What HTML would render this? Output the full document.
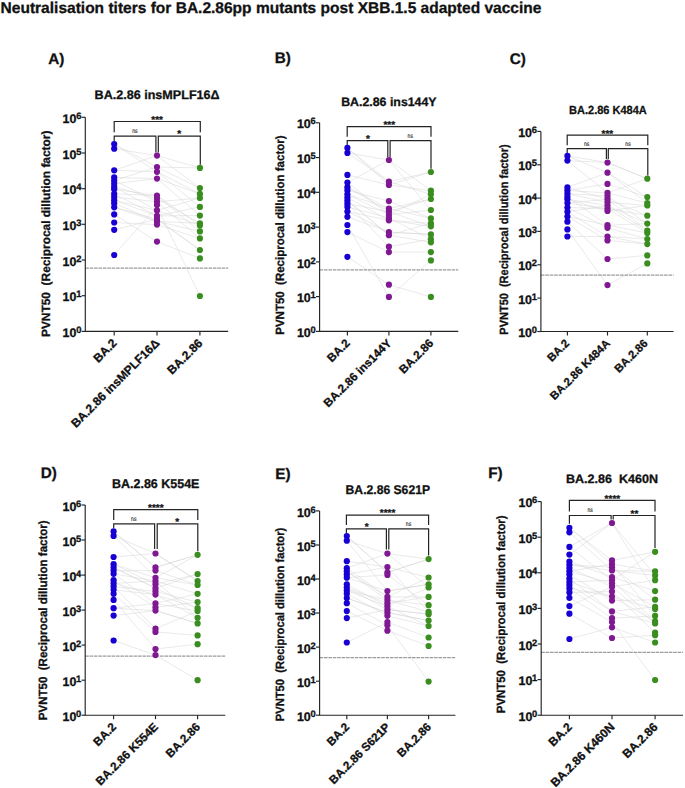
<!DOCTYPE html><html><head><meta charset="utf-8"><style>html,body{margin:0;padding:0;background:#fff;width:685px;height:788px;overflow:hidden}svg{display:block;text-rendering:geometricPrecision}</style></head><body>
<svg width="685" height="788" viewBox="0 0 685 788">
<rect width="685" height="788" fill="#fff"/>
<text x="0.6" y="12.9" font-family="Liberation Sans, sans-serif" font-weight="bold" stroke="#111" stroke-width="0.3" font-size="15.5" textLength="540.8" lengthAdjust="spacingAndGlyphs" fill="#111">Neutralisation titers for BA.2.86pp mutants post XBB.1.5 adapted vaccine</text>
<g stroke="#d4d4d4" stroke-width="0.5" fill="none">
<polyline points="114.2,144 157,167.1 199.9,167.9"/>
<polyline points="114.2,144 157,171.8 199.9,193.9"/>
<polyline points="114.2,148.7 157,155.6 199.9,188.1"/>
<polyline points="114.2,170.3 157,155.6 199.9,167.9"/>
<polyline points="114.2,170.3 157,171.8 199.9,206.9"/>
<polyline points="114.2,177.4 157,178.6 199.9,215.6"/>
<polyline points="114.2,180.5 157,201.8 199.9,198"/>
<polyline points="114.2,180.5 157,167.1 199.9,188.1"/>
<polyline points="114.2,183.7 157,178.6 199.9,193.9"/>
<polyline points="114.2,186.8 157,210.4 199.9,198"/>
<polyline points="114.2,186.8 157,198.6 199.9,223.3"/>
<polyline points="114.2,189.2 157,195.5 199.9,225.4"/>
<polyline points="114.2,193.9 157,215.9 199.9,215.6"/>
<polyline points="114.2,193.9 157,195.5 199.9,231.4"/>
<polyline points="114.2,197 157,201.8 199.9,238.4"/>
<polyline points="114.2,200.2 157,210.4 199.9,225.4"/>
<polyline points="114.2,200.2 157,215.9 199.9,206.9"/>
<polyline points="114.2,203.3 157,221.4 199.9,231.4"/>
<polyline points="114.2,207.3 157,221.4 199.9,223.3"/>
<polyline points="114.2,207.3 157,219.1 199.9,250"/>
<polyline points="114.2,222.5 157,224.6 199.9,238.4"/>
<polyline points="114.2,229.8 157,219.1 199.9,250"/>
<polyline points="114.2,254.8 157,206.5 199.9,296"/>
<polyline points="114.2,214.4 157,241.6 199.9,258.4"/>
</g>
<line x1="85.3" y1="268.2" x2="228.2" y2="268.2" stroke="#9c9c9c" stroke-width="1.2" stroke-dasharray="3.6,0.8"/>
<g stroke="#242424" stroke-width="1.15" fill="none">
<path d="M85.3,117.3 V331.4 H228.2"/>
<path d="M81.7,331.4 H85.3"/>
<path d="M81.7,295.7 H85.3"/>
<path d="M81.7,260 H85.3"/>
<path d="M81.7,224.3 H85.3"/>
<path d="M81.7,188.7 H85.3"/>
<path d="M81.7,153 H85.3"/>
<path d="M81.7,117.3 H85.3"/>
<path d="M114.2,331.4 V335.4"/>
<path d="M157,331.4 V335.4"/>
<path d="M199.9,331.4 V335.4"/>
</g>
<text x="76.4" y="337" font-family="Liberation Sans, sans-serif" font-weight="bold" stroke="#111" stroke-width="0.3" font-size="12.4" text-anchor="end" fill="#111">10</text>
<text x="76.2" y="333" font-family="Liberation Sans, sans-serif" font-weight="bold" stroke="#111" stroke-width="0.3" font-size="9.4" fill="#111">0</text>
<text x="76.4" y="301.3" font-family="Liberation Sans, sans-serif" font-weight="bold" stroke="#111" stroke-width="0.3" font-size="12.4" text-anchor="end" fill="#111">10</text>
<text x="76.2" y="297.3" font-family="Liberation Sans, sans-serif" font-weight="bold" stroke="#111" stroke-width="0.3" font-size="9.4" fill="#111">1</text>
<text x="76.4" y="265.6" font-family="Liberation Sans, sans-serif" font-weight="bold" stroke="#111" stroke-width="0.3" font-size="12.4" text-anchor="end" fill="#111">10</text>
<text x="76.2" y="261.6" font-family="Liberation Sans, sans-serif" font-weight="bold" stroke="#111" stroke-width="0.3" font-size="9.4" fill="#111">2</text>
<text x="76.4" y="229.9" font-family="Liberation Sans, sans-serif" font-weight="bold" stroke="#111" stroke-width="0.3" font-size="12.4" text-anchor="end" fill="#111">10</text>
<text x="76.2" y="225.9" font-family="Liberation Sans, sans-serif" font-weight="bold" stroke="#111" stroke-width="0.3" font-size="9.4" fill="#111">3</text>
<text x="76.4" y="194.3" font-family="Liberation Sans, sans-serif" font-weight="bold" stroke="#111" stroke-width="0.3" font-size="12.4" text-anchor="end" fill="#111">10</text>
<text x="76.2" y="190.3" font-family="Liberation Sans, sans-serif" font-weight="bold" stroke="#111" stroke-width="0.3" font-size="9.4" fill="#111">4</text>
<text x="76.4" y="158.6" font-family="Liberation Sans, sans-serif" font-weight="bold" stroke="#111" stroke-width="0.3" font-size="12.4" text-anchor="end" fill="#111">10</text>
<text x="76.2" y="154.6" font-family="Liberation Sans, sans-serif" font-weight="bold" stroke="#111" stroke-width="0.3" font-size="9.4" fill="#111">5</text>
<text x="76.4" y="122.9" font-family="Liberation Sans, sans-serif" font-weight="bold" stroke="#111" stroke-width="0.3" font-size="12.4" text-anchor="end" fill="#111">10</text>
<text x="76.2" y="118.9" font-family="Liberation Sans, sans-serif" font-weight="bold" stroke="#111" stroke-width="0.3" font-size="9.4" fill="#111">6</text>
<text x="0" y="0" transform="translate(50.4,233.8) rotate(-90)" font-family="Liberation Sans, sans-serif" font-weight="bold" stroke="#111" stroke-width="0.3" font-size="12" text-anchor="middle" textLength="206.5" lengthAdjust="spacingAndGlyphs" fill="#111" xml:space="preserve">PVNT50  (Reciprocal dillution factor)</text>
<text x="0" y="0" transform="translate(117.5,343.9) rotate(-45)" font-family="Liberation Sans, sans-serif" font-weight="bold" stroke="#111" stroke-width="0.3" font-size="12.0" text-anchor="end" fill="#111">BA.2</text>
<text x="0" y="0" transform="translate(160.3,343.9) rotate(-45)" font-family="Liberation Sans, sans-serif" font-weight="bold" stroke="#111" stroke-width="0.3" font-size="12.0" text-anchor="end" fill="#111">BA.2.86 insMPLF16Δ</text>
<text x="0" y="0" transform="translate(203.2,343.9) rotate(-45)" font-family="Liberation Sans, sans-serif" font-weight="bold" stroke="#111" stroke-width="0.3" font-size="12.0" text-anchor="end" fill="#111">BA.2.86</text>
<text x="48.2" y="63.9" font-family="Liberation Sans, sans-serif" font-weight="bold" stroke="#111" stroke-width="0.3" font-size="15.3" fill="#111">A)</text>
<text x="94.6" y="99.3" font-family="Liberation Sans, sans-serif" font-weight="bold" stroke="#111" stroke-width="0.3" font-size="12.4" textLength="125" lengthAdjust="spacingAndGlyphs" fill="#111" xml:space="preserve">BA.2.86 insMPLF16Δ</text>
<g stroke="#242424" stroke-width="1.2" fill="none">
<path d="M114.2,132.2 V121.5 H200.3 V132.2"/>
<path d="M114.2,141 V136.1 H155.9 V152.5"/>
<path d="M158.3,152.5 V136.1 H200.3 V164.7"/>
</g>
<text x="157.1" y="122.9" font-family="Liberation Sans, sans-serif" font-weight="bold" stroke="#111" stroke-width="0.3" font-size="10" text-anchor="middle" fill="#111">***</text>
<text x="134.9" y="133.1" font-family="Liberation Sans, sans-serif" font-size="6.6" textLength="5.4" lengthAdjust="spacingAndGlyphs" text-anchor="middle" fill="#1a1a1a" stroke="#1a1a1a" stroke-width="0.12">ns</text>
<text x="179.3" y="137.3" font-family="Liberation Sans, sans-serif" font-weight="bold" stroke="#111" stroke-width="0.3" font-size="10" text-anchor="middle" fill="#111">*</text>
<g fill="#1800d4">
<circle cx="114.2" cy="144" r="3.1"/>
<circle cx="114.2" cy="148.7" r="3.1"/>
<circle cx="114.2" cy="170.3" r="3.1"/>
<circle cx="114.2" cy="177.4" r="3.1"/>
<circle cx="114.2" cy="180.5" r="3.1"/>
<circle cx="114.2" cy="183.7" r="3.1"/>
<circle cx="114.2" cy="186.8" r="3.1"/>
<circle cx="114.2" cy="189.2" r="3.1"/>
<circle cx="114.2" cy="193.9" r="3.1"/>
<circle cx="114.2" cy="197" r="3.1"/>
<circle cx="114.2" cy="200.2" r="3.1"/>
<circle cx="114.2" cy="203.3" r="3.1"/>
<circle cx="114.2" cy="207.3" r="3.1"/>
<circle cx="114.2" cy="214.4" r="3.1"/>
<circle cx="114.2" cy="222.5" r="3.1"/>
<circle cx="114.2" cy="229.8" r="3.1"/>
<circle cx="114.2" cy="255" r="3.1"/>
</g>
<g fill="#7f1892">
<circle cx="157" cy="155.6" r="3.1"/>
<circle cx="157" cy="167.1" r="3.1"/>
<circle cx="157" cy="171.8" r="3.1"/>
<circle cx="157" cy="178.6" r="3.1"/>
<circle cx="157" cy="195.5" r="3.1"/>
<circle cx="157" cy="198.6" r="3.1"/>
<circle cx="157" cy="201.8" r="3.1"/>
<circle cx="157" cy="205" r="3.1"/>
<circle cx="157" cy="210.4" r="3.1"/>
<circle cx="157" cy="215.9" r="3.1"/>
<circle cx="157" cy="219.1" r="3.1"/>
<circle cx="157" cy="221.4" r="3.1"/>
<circle cx="157" cy="224.6" r="3.1"/>
<circle cx="157" cy="241.6" r="3.1"/>
</g>
<g fill="#3a8e1f">
<circle cx="199.9" cy="167.9" r="3.1"/>
<circle cx="199.9" cy="188.1" r="3.1"/>
<circle cx="199.9" cy="193.9" r="3.1"/>
<circle cx="199.9" cy="198" r="3.1"/>
<circle cx="199.9" cy="206.9" r="3.1"/>
<circle cx="199.9" cy="215.6" r="3.1"/>
<circle cx="199.9" cy="223.3" r="3.1"/>
<circle cx="199.9" cy="225.4" r="3.1"/>
<circle cx="199.9" cy="231.4" r="3.1"/>
<circle cx="199.9" cy="238.4" r="3.1"/>
<circle cx="199.9" cy="250" r="3.1"/>
<circle cx="199.9" cy="258.4" r="3.1"/>
<circle cx="199.9" cy="296" r="3.1"/>
</g>
<g stroke="#d4d4d4" stroke-width="0.5" fill="none">
<polyline points="347.4,147.9 388.9,181.7 430.9,172"/>
<polyline points="347.4,147.9 388.9,184.9 430.9,190.7"/>
<polyline points="347.4,152.9 388.9,160 430.9,190.7"/>
<polyline points="347.4,152.9 388.9,181.7 430.9,194.3"/>
<polyline points="347.4,174.9 388.9,184.9 430.9,172"/>
<polyline points="347.4,182.5 388.9,160 430.9,210"/>
<polyline points="347.4,182.5 388.9,214.8 430.9,194.3"/>
<polyline points="347.4,187.2 388.9,211.6 430.9,199"/>
<polyline points="347.4,187.2 388.9,208.5 430.9,199"/>
<polyline points="347.4,190.4 388.9,201.1 430.9,218.4"/>
<polyline points="347.4,194.3 388.9,214.8 430.9,210"/>
<polyline points="347.4,194.3 388.9,208.5 430.9,218.4"/>
<polyline points="347.4,197.5 388.9,220.3 430.9,223.4"/>
<polyline points="347.4,200.6 388.9,235.2 430.9,223.4"/>
<polyline points="347.4,200.6 388.9,235.2 430.9,242.3"/>
<polyline points="347.4,203.7 388.9,211.6 430.9,226.3"/>
<polyline points="347.4,203.7 388.9,246.7 430.9,239.2"/>
<polyline points="347.4,206.9 388.9,217.9 430.9,239.2"/>
<polyline points="347.4,211.6 388.9,220.3 430.9,226.3"/>
<polyline points="347.4,211.6 388.9,232.1 430.9,234.4"/>
<polyline points="347.4,216.8 388.9,232.1 430.9,234.4"/>
<polyline points="347.4,256.8 388.9,284.7 430.9,296.9"/>
<polyline points="347.4,225 388.9,296.9 430.9,260.4"/>
<polyline points="347.4,232.1 388.9,252.1 430.9,252.1"/>
</g>
<line x1="319.6" y1="269.8" x2="458.3" y2="269.8" stroke="#9c9c9c" stroke-width="1.2" stroke-dasharray="3.6,0.8"/>
<g stroke="#242424" stroke-width="1.15" fill="none">
<path d="M319.6,122.8 V331.4 H458.3"/>
<path d="M316,331.4 H319.6"/>
<path d="M316,296.6 H319.6"/>
<path d="M316,261.9 H319.6"/>
<path d="M316,227.1 H319.6"/>
<path d="M316,192.3 H319.6"/>
<path d="M316,157.6 H319.6"/>
<path d="M316,122.8 H319.6"/>
<path d="M347.4,331.4 V335.4"/>
<path d="M388.9,331.4 V335.4"/>
<path d="M430.9,331.4 V335.4"/>
</g>
<text x="310.7" y="337" font-family="Liberation Sans, sans-serif" font-weight="bold" stroke="#111" stroke-width="0.3" font-size="12.4" text-anchor="end" fill="#111">10</text>
<text x="310.5" y="333" font-family="Liberation Sans, sans-serif" font-weight="bold" stroke="#111" stroke-width="0.3" font-size="9.4" fill="#111">0</text>
<text x="310.7" y="302.2" font-family="Liberation Sans, sans-serif" font-weight="bold" stroke="#111" stroke-width="0.3" font-size="12.4" text-anchor="end" fill="#111">10</text>
<text x="310.5" y="298.2" font-family="Liberation Sans, sans-serif" font-weight="bold" stroke="#111" stroke-width="0.3" font-size="9.4" fill="#111">1</text>
<text x="310.7" y="267.5" font-family="Liberation Sans, sans-serif" font-weight="bold" stroke="#111" stroke-width="0.3" font-size="12.4" text-anchor="end" fill="#111">10</text>
<text x="310.5" y="263.5" font-family="Liberation Sans, sans-serif" font-weight="bold" stroke="#111" stroke-width="0.3" font-size="9.4" fill="#111">2</text>
<text x="310.7" y="232.7" font-family="Liberation Sans, sans-serif" font-weight="bold" stroke="#111" stroke-width="0.3" font-size="12.4" text-anchor="end" fill="#111">10</text>
<text x="310.5" y="228.7" font-family="Liberation Sans, sans-serif" font-weight="bold" stroke="#111" stroke-width="0.3" font-size="9.4" fill="#111">3</text>
<text x="310.7" y="197.9" font-family="Liberation Sans, sans-serif" font-weight="bold" stroke="#111" stroke-width="0.3" font-size="12.4" text-anchor="end" fill="#111">10</text>
<text x="310.5" y="193.9" font-family="Liberation Sans, sans-serif" font-weight="bold" stroke="#111" stroke-width="0.3" font-size="9.4" fill="#111">4</text>
<text x="310.7" y="163.2" font-family="Liberation Sans, sans-serif" font-weight="bold" stroke="#111" stroke-width="0.3" font-size="12.4" text-anchor="end" fill="#111">10</text>
<text x="310.5" y="159.2" font-family="Liberation Sans, sans-serif" font-weight="bold" stroke="#111" stroke-width="0.3" font-size="9.4" fill="#111">5</text>
<text x="310.7" y="128.4" font-family="Liberation Sans, sans-serif" font-weight="bold" stroke="#111" stroke-width="0.3" font-size="12.4" text-anchor="end" fill="#111">10</text>
<text x="310.5" y="124.4" font-family="Liberation Sans, sans-serif" font-weight="bold" stroke="#111" stroke-width="0.3" font-size="9.4" fill="#111">6</text>
<text x="0" y="0" transform="translate(283.6,235.1) rotate(-90)" font-family="Liberation Sans, sans-serif" font-weight="bold" stroke="#111" stroke-width="0.3" font-size="12" text-anchor="middle" textLength="199.3" lengthAdjust="spacingAndGlyphs" fill="#111" xml:space="preserve">PVNT50  (Reciprocal dillution factor)</text>
<text x="0" y="0" transform="translate(350.7,343.9) rotate(-45)" font-family="Liberation Sans, sans-serif" font-weight="bold" stroke="#111" stroke-width="0.3" font-size="11.7" text-anchor="end" fill="#111">BA.2</text>
<text x="0" y="0" transform="translate(392.2,343.9) rotate(-45)" font-family="Liberation Sans, sans-serif" font-weight="bold" stroke="#111" stroke-width="0.3" font-size="11.7" text-anchor="end" fill="#111">BA.2.86 ins144Y</text>
<text x="0" y="0" transform="translate(434.2,343.9) rotate(-45)" font-family="Liberation Sans, sans-serif" font-weight="bold" stroke="#111" stroke-width="0.3" font-size="11.7" text-anchor="end" fill="#111">BA.2.86</text>
<text x="274.8" y="63.1" font-family="Liberation Sans, sans-serif" font-weight="bold" stroke="#111" stroke-width="0.3" font-size="15.3" fill="#111">B)</text>
<text x="341.2" y="105.8" font-family="Liberation Sans, sans-serif" font-weight="bold" stroke="#111" stroke-width="0.3" font-size="12.2" textLength="95.4" lengthAdjust="spacingAndGlyphs" fill="#111" xml:space="preserve">BA.2.86 ins144Y</text>
<g stroke="#242424" stroke-width="1.2" fill="none">
<path d="M347.2,136.8 V126.6 H431 V136.8"/>
<path d="M347.2,145.4 V140.7 H387.8 V157.2"/>
<path d="M390.1,157.2 V140.7 H431 V168.7"/>
</g>
<text x="389.3" y="128.1" font-family="Liberation Sans, sans-serif" font-weight="bold" stroke="#111" stroke-width="0.3" font-size="10" text-anchor="middle" fill="#111">***</text>
<text x="367.9" y="142.2" font-family="Liberation Sans, sans-serif" font-weight="bold" stroke="#111" stroke-width="0.3" font-size="10" text-anchor="middle" fill="#111">*</text>
<text x="410.3" y="138.3" font-family="Liberation Sans, sans-serif" font-size="6.6" textLength="5.4" lengthAdjust="spacingAndGlyphs" text-anchor="middle" fill="#1a1a1a" stroke="#1a1a1a" stroke-width="0.12">ns</text>
<g fill="#1800d4">
<circle cx="347.4" cy="147.9" r="3.1"/>
<circle cx="347.4" cy="152.9" r="3.1"/>
<circle cx="347.4" cy="174.9" r="3.1"/>
<circle cx="347.4" cy="182.5" r="3.1"/>
<circle cx="347.4" cy="187.2" r="3.1"/>
<circle cx="347.4" cy="190.4" r="3.1"/>
<circle cx="347.4" cy="194.3" r="3.1"/>
<circle cx="347.4" cy="197.5" r="3.1"/>
<circle cx="347.4" cy="200.6" r="3.1"/>
<circle cx="347.4" cy="203.7" r="3.1"/>
<circle cx="347.4" cy="206.9" r="3.1"/>
<circle cx="347.4" cy="211.6" r="3.1"/>
<circle cx="347.4" cy="216.8" r="3.1"/>
<circle cx="347.4" cy="225" r="3.1"/>
<circle cx="347.4" cy="232.1" r="3.1"/>
<circle cx="347.4" cy="256.8" r="3.1"/>
</g>
<g fill="#7f1892">
<circle cx="388.9" cy="160" r="3.1"/>
<circle cx="388.9" cy="181.7" r="3.1"/>
<circle cx="388.9" cy="184.9" r="3.1"/>
<circle cx="388.9" cy="201.1" r="3.1"/>
<circle cx="388.9" cy="208.5" r="3.1"/>
<circle cx="388.9" cy="211.6" r="3.1"/>
<circle cx="388.9" cy="214.8" r="3.1"/>
<circle cx="388.9" cy="217.9" r="3.1"/>
<circle cx="388.9" cy="220.3" r="3.1"/>
<circle cx="388.9" cy="232.1" r="3.1"/>
<circle cx="388.9" cy="235.2" r="3.1"/>
<circle cx="388.9" cy="246.7" r="3.1"/>
<circle cx="388.9" cy="252.1" r="3.1"/>
<circle cx="388.9" cy="284.7" r="3.1"/>
<circle cx="388.9" cy="296.9" r="3.1"/>
</g>
<g fill="#3a8e1f">
<circle cx="430.9" cy="172" r="3.1"/>
<circle cx="430.9" cy="190.7" r="3.1"/>
<circle cx="430.9" cy="194.3" r="3.1"/>
<circle cx="430.9" cy="199" r="3.1"/>
<circle cx="430.9" cy="210" r="3.1"/>
<circle cx="430.9" cy="218.4" r="3.1"/>
<circle cx="430.9" cy="223.4" r="3.1"/>
<circle cx="430.9" cy="226.3" r="3.1"/>
<circle cx="430.9" cy="234.4" r="3.1"/>
<circle cx="430.9" cy="239.2" r="3.1"/>
<circle cx="430.9" cy="242.3" r="3.1"/>
<circle cx="430.9" cy="252.1" r="3.1"/>
<circle cx="430.9" cy="260.4" r="3.1"/>
<circle cx="430.9" cy="296.9" r="3.1"/>
</g>
<g stroke="#d4d4d4" stroke-width="0.5" fill="none">
<polyline points="567.4,155.9 607.5,162.6 647.3,178.7"/>
<polyline points="567.4,155.9 607.5,172.7 647.3,197.1"/>
<polyline points="567.4,160.6 607.5,192.9 647.3,178.7"/>
<polyline points="567.4,160.6 607.5,162.6 647.3,178.7"/>
<polyline points="567.4,187.4 607.5,172.7 647.3,203.1"/>
<polyline points="567.4,187.4 607.5,199.2 647.3,215.7"/>
<polyline points="567.4,190.5 607.5,183.9 647.3,197.1"/>
<polyline points="567.4,190.5 607.5,192.9 647.3,203.1"/>
<polyline points="567.4,193.7 607.5,202.3 647.3,205.5"/>
<polyline points="567.4,193.7 607.5,196 647.3,223.6"/>
<polyline points="567.4,196.8 607.5,225.2 647.3,223.6"/>
<polyline points="567.4,199.2 607.5,205.5 647.3,230.7"/>
<polyline points="567.4,199.2 607.5,211 647.3,205.5"/>
<polyline points="567.4,203.1 607.5,199.2 647.3,230.7"/>
<polyline points="567.4,203.1 607.5,208.6 647.3,215.7"/>
<polyline points="567.4,207.5 607.5,227.8 647.3,239"/>
<polyline points="567.4,207.5 607.5,208.6 647.3,233"/>
<polyline points="567.4,211.8 607.5,236.5 647.3,239"/>
<polyline points="567.4,211.8 607.5,205.5 647.3,223.6"/>
<polyline points="567.4,216.5 607.5,225.2 647.3,233"/>
<polyline points="567.4,216.5 607.5,240.4 647.3,244.1"/>
<polyline points="567.4,236.5 607.5,236.5 647.3,244.1"/>
<polyline points="567.4,229.4 607.5,285.1 647.3,263.4"/>
<polyline points="567.4,221.7 607.5,259 647.3,255.4"/>
</g>
<line x1="540.9" y1="275.2" x2="673.6" y2="275.2" stroke="#9c9c9c" stroke-width="1.2" stroke-dasharray="3.6,0.8"/>
<g stroke="#242424" stroke-width="1.15" fill="none">
<path d="M540.9,131.4 V331.5 H673.6"/>
<path d="M537.3,331.5 H540.9"/>
<path d="M537.3,298.1 H540.9"/>
<path d="M537.3,264.8 H540.9"/>
<path d="M537.3,231.4 H540.9"/>
<path d="M537.3,198.1 H540.9"/>
<path d="M537.3,164.8 H540.9"/>
<path d="M537.3,131.4 H540.9"/>
<path d="M567.4,331.5 V335.5"/>
<path d="M607.5,331.5 V335.5"/>
<path d="M647.3,331.5 V335.5"/>
</g>
<text x="532" y="337.1" font-family="Liberation Sans, sans-serif" font-weight="bold" stroke="#111" stroke-width="0.3" font-size="12.4" text-anchor="end" fill="#111">10</text>
<text x="531.8" y="333.1" font-family="Liberation Sans, sans-serif" font-weight="bold" stroke="#111" stroke-width="0.3" font-size="9.4" fill="#111">0</text>
<text x="532" y="303.8" font-family="Liberation Sans, sans-serif" font-weight="bold" stroke="#111" stroke-width="0.3" font-size="12.4" text-anchor="end" fill="#111">10</text>
<text x="531.8" y="299.8" font-family="Liberation Sans, sans-serif" font-weight="bold" stroke="#111" stroke-width="0.3" font-size="9.4" fill="#111">1</text>
<text x="532" y="270.4" font-family="Liberation Sans, sans-serif" font-weight="bold" stroke="#111" stroke-width="0.3" font-size="12.4" text-anchor="end" fill="#111">10</text>
<text x="531.8" y="266.4" font-family="Liberation Sans, sans-serif" font-weight="bold" stroke="#111" stroke-width="0.3" font-size="9.4" fill="#111">2</text>
<text x="532" y="237" font-family="Liberation Sans, sans-serif" font-weight="bold" stroke="#111" stroke-width="0.3" font-size="12.4" text-anchor="end" fill="#111">10</text>
<text x="531.8" y="233" font-family="Liberation Sans, sans-serif" font-weight="bold" stroke="#111" stroke-width="0.3" font-size="9.4" fill="#111">3</text>
<text x="532" y="203.7" font-family="Liberation Sans, sans-serif" font-weight="bold" stroke="#111" stroke-width="0.3" font-size="12.4" text-anchor="end" fill="#111">10</text>
<text x="531.8" y="199.7" font-family="Liberation Sans, sans-serif" font-weight="bold" stroke="#111" stroke-width="0.3" font-size="9.4" fill="#111">4</text>
<text x="532" y="170.3" font-family="Liberation Sans, sans-serif" font-weight="bold" stroke="#111" stroke-width="0.3" font-size="12.4" text-anchor="end" fill="#111">10</text>
<text x="531.8" y="166.3" font-family="Liberation Sans, sans-serif" font-weight="bold" stroke="#111" stroke-width="0.3" font-size="9.4" fill="#111">5</text>
<text x="532" y="137" font-family="Liberation Sans, sans-serif" font-weight="bold" stroke="#111" stroke-width="0.3" font-size="12.4" text-anchor="end" fill="#111">10</text>
<text x="531.8" y="133" font-family="Liberation Sans, sans-serif" font-weight="bold" stroke="#111" stroke-width="0.3" font-size="9.4" fill="#111">6</text>
<text x="0" y="0" transform="translate(508,239.5) rotate(-90)" font-family="Liberation Sans, sans-serif" font-weight="bold" stroke="#111" stroke-width="0.3" font-size="12" text-anchor="middle" textLength="190.3" lengthAdjust="spacingAndGlyphs" fill="#111" xml:space="preserve">PVNT50  (Reciprocal dillution factor)</text>
<text x="0" y="0" transform="translate(569.9,344) rotate(-45)" font-family="Liberation Sans, sans-serif" font-weight="bold" stroke="#111" stroke-width="0.3" font-size="11.3" text-anchor="end" fill="#111">BA.2</text>
<text x="0" y="0" transform="translate(610.8,344) rotate(-45)" font-family="Liberation Sans, sans-serif" font-weight="bold" stroke="#111" stroke-width="0.3" font-size="11.3" text-anchor="end" fill="#111">BA.2.86 K484A</text>
<text x="0" y="0" transform="translate(648.4,344) rotate(-45)" font-family="Liberation Sans, sans-serif" font-weight="bold" stroke="#111" stroke-width="0.3" font-size="11.3" text-anchor="end" fill="#111">BA.2.86</text>
<text x="509.7" y="64.4" font-family="Liberation Sans, sans-serif" font-weight="bold" stroke="#111" stroke-width="0.3" font-size="15.3" fill="#111">C)</text>
<text x="569.1" y="114.1" font-family="Liberation Sans, sans-serif" font-weight="bold" stroke="#111" stroke-width="0.3" font-size="11.8" textLength="77.6" lengthAdjust="spacingAndGlyphs" fill="#111" xml:space="preserve">BA.2.86 K484A</text>
<g stroke="#242424" stroke-width="1.2" fill="none">
<path d="M567.2,145.3 V135.2 H647.8 V145.3"/>
<path d="M567.2,153.5 V148.7 H606.4 V159"/>
<path d="M608.3,159 V148.7 H647.8 V175.4"/>
</g>
<text x="607.4" y="136.9" font-family="Liberation Sans, sans-serif" font-weight="bold" stroke="#111" stroke-width="0.3" font-size="10" text-anchor="middle" fill="#111">***</text>
<text x="586.6" y="146.2" font-family="Liberation Sans, sans-serif" font-size="6.6" textLength="5.4" lengthAdjust="spacingAndGlyphs" text-anchor="middle" fill="#1a1a1a" stroke="#1a1a1a" stroke-width="0.12">ns</text>
<text x="628" y="146.2" font-family="Liberation Sans, sans-serif" font-size="6.6" textLength="5.4" lengthAdjust="spacingAndGlyphs" text-anchor="middle" fill="#1a1a1a" stroke="#1a1a1a" stroke-width="0.12">ns</text>
<g fill="#1800d4">
<circle cx="567.4" cy="155.9" r="3.1"/>
<circle cx="567.4" cy="160.6" r="3.1"/>
<circle cx="567.4" cy="187.4" r="3.1"/>
<circle cx="567.4" cy="190.5" r="3.1"/>
<circle cx="567.4" cy="193.7" r="3.1"/>
<circle cx="567.4" cy="196.8" r="3.1"/>
<circle cx="567.4" cy="199.2" r="3.1"/>
<circle cx="567.4" cy="203.1" r="3.1"/>
<circle cx="567.4" cy="207.5" r="3.1"/>
<circle cx="567.4" cy="211.8" r="3.1"/>
<circle cx="567.4" cy="216.5" r="3.1"/>
<circle cx="567.4" cy="221.7" r="3.1"/>
<circle cx="567.4" cy="229.4" r="3.1"/>
<circle cx="567.4" cy="236.5" r="3.1"/>
</g>
<g fill="#7f1892">
<circle cx="607.5" cy="162.6" r="3.1"/>
<circle cx="607.5" cy="172.7" r="3.1"/>
<circle cx="607.5" cy="183.9" r="3.1"/>
<circle cx="607.5" cy="192.9" r="3.1"/>
<circle cx="607.5" cy="196" r="3.1"/>
<circle cx="607.5" cy="199.2" r="3.1"/>
<circle cx="607.5" cy="202.3" r="3.1"/>
<circle cx="607.5" cy="205.5" r="3.1"/>
<circle cx="607.5" cy="208.6" r="3.1"/>
<circle cx="607.5" cy="211" r="3.1"/>
<circle cx="607.5" cy="225.2" r="3.1"/>
<circle cx="607.5" cy="227.8" r="3.1"/>
<circle cx="607.5" cy="236.5" r="3.1"/>
<circle cx="607.5" cy="240.4" r="3.1"/>
<circle cx="607.5" cy="259" r="3.1"/>
<circle cx="607.5" cy="285.1" r="3.1"/>
</g>
<g fill="#3a8e1f">
<circle cx="647.3" cy="178.7" r="3.1"/>
<circle cx="647.3" cy="197.1" r="3.1"/>
<circle cx="647.3" cy="203.1" r="3.1"/>
<circle cx="647.3" cy="205.5" r="3.1"/>
<circle cx="647.3" cy="215.7" r="3.1"/>
<circle cx="647.3" cy="223.6" r="3.1"/>
<circle cx="647.3" cy="230.7" r="3.1"/>
<circle cx="647.3" cy="233" r="3.1"/>
<circle cx="647.3" cy="239" r="3.1"/>
<circle cx="647.3" cy="244.1" r="3.1"/>
<circle cx="647.3" cy="255.4" r="3.1"/>
<circle cx="647.3" cy="263.4" r="3.1"/>
</g>
<g stroke="#d4d4d4" stroke-width="0.5" fill="none">
<polyline points="113.6,531.4 155.5,567.4 197.6,554.8"/>
<polyline points="113.6,531.4 155.5,567.4 197.6,554.8"/>
<polyline points="113.6,535.9 155.5,577.8 197.6,554.8"/>
<polyline points="113.6,535.9 155.5,553.5 197.6,581"/>
<polyline points="113.6,557 155.5,553.5 197.6,581"/>
<polyline points="113.6,564.2 155.5,577.8 197.6,585"/>
<polyline points="113.6,564.2 155.5,584.2 197.6,574.1"/>
<polyline points="113.6,567.4 155.5,588.2 197.6,574.1"/>
<polyline points="113.6,567.4 155.5,588.2 197.6,608.2"/>
<polyline points="113.6,570.6 155.5,570.6 197.6,585"/>
<polyline points="113.6,573.8 155.5,603.4 197.6,593.8"/>
<polyline points="113.6,573.8 155.5,581 197.6,617.8"/>
<polyline points="113.6,580.2 155.5,607.4 197.6,602.1"/>
<polyline points="113.6,583.4 155.5,581 197.6,593.8"/>
<polyline points="113.6,583.4 155.5,594.6 197.6,608.2"/>
<polyline points="113.6,586.6 155.5,591.4 197.6,602.1"/>
<polyline points="113.6,586.6 155.5,628.7 197.6,611.1"/>
<polyline points="113.6,589.8 155.5,594.6 197.6,617.8"/>
<polyline points="113.6,608.2 155.5,610.6 197.6,623.4"/>
<polyline points="113.6,608.2 155.5,603.4 197.6,611.1"/>
<polyline points="113.6,615.6 155.5,610.6 197.6,623.4"/>
<polyline points="113.6,640.5 155.5,655.1 197.6,680.2"/>
<polyline points="113.6,599.9 155.5,649 197.6,644.2"/>
<polyline points="113.6,593.8 155.5,631.9 197.6,635.4"/>
</g>
<line x1="85.2" y1="656.2" x2="225.3" y2="656.2" stroke="#9c9c9c" stroke-width="1.2" stroke-dasharray="3.6,0.8"/>
<g stroke="#242424" stroke-width="1.15" fill="none">
<path d="M85.2,505 V715.2 H225.3"/>
<path d="M81.6,715.2 H85.2"/>
<path d="M81.6,680.2 H85.2"/>
<path d="M81.6,645.1 H85.2"/>
<path d="M81.6,610.1 H85.2"/>
<path d="M81.6,575.1 H85.2"/>
<path d="M81.6,540 H85.2"/>
<path d="M81.6,505 H85.2"/>
<path d="M113.6,715.2 V719.2"/>
<path d="M155.5,715.2 V719.2"/>
<path d="M197.6,715.2 V719.2"/>
</g>
<text x="76.3" y="720.8" font-family="Liberation Sans, sans-serif" font-weight="bold" stroke="#111" stroke-width="0.3" font-size="12.4" text-anchor="end" fill="#111">10</text>
<text x="76.1" y="716.8" font-family="Liberation Sans, sans-serif" font-weight="bold" stroke="#111" stroke-width="0.3" font-size="9.4" fill="#111">0</text>
<text x="76.3" y="685.8" font-family="Liberation Sans, sans-serif" font-weight="bold" stroke="#111" stroke-width="0.3" font-size="12.4" text-anchor="end" fill="#111">10</text>
<text x="76.1" y="681.8" font-family="Liberation Sans, sans-serif" font-weight="bold" stroke="#111" stroke-width="0.3" font-size="9.4" fill="#111">1</text>
<text x="76.3" y="650.7" font-family="Liberation Sans, sans-serif" font-weight="bold" stroke="#111" stroke-width="0.3" font-size="12.4" text-anchor="end" fill="#111">10</text>
<text x="76.1" y="646.7" font-family="Liberation Sans, sans-serif" font-weight="bold" stroke="#111" stroke-width="0.3" font-size="9.4" fill="#111">2</text>
<text x="76.3" y="615.7" font-family="Liberation Sans, sans-serif" font-weight="bold" stroke="#111" stroke-width="0.3" font-size="12.4" text-anchor="end" fill="#111">10</text>
<text x="76.1" y="611.7" font-family="Liberation Sans, sans-serif" font-weight="bold" stroke="#111" stroke-width="0.3" font-size="9.4" fill="#111">3</text>
<text x="76.3" y="580.7" font-family="Liberation Sans, sans-serif" font-weight="bold" stroke="#111" stroke-width="0.3" font-size="12.4" text-anchor="end" fill="#111">10</text>
<text x="76.1" y="576.7" font-family="Liberation Sans, sans-serif" font-weight="bold" stroke="#111" stroke-width="0.3" font-size="9.4" fill="#111">4</text>
<text x="76.3" y="545.6" font-family="Liberation Sans, sans-serif" font-weight="bold" stroke="#111" stroke-width="0.3" font-size="12.4" text-anchor="end" fill="#111">10</text>
<text x="76.1" y="541.6" font-family="Liberation Sans, sans-serif" font-weight="bold" stroke="#111" stroke-width="0.3" font-size="9.4" fill="#111">5</text>
<text x="76.3" y="510.6" font-family="Liberation Sans, sans-serif" font-weight="bold" stroke="#111" stroke-width="0.3" font-size="12.4" text-anchor="end" fill="#111">10</text>
<text x="76.1" y="506.6" font-family="Liberation Sans, sans-serif" font-weight="bold" stroke="#111" stroke-width="0.3" font-size="9.4" fill="#111">6</text>
<text x="0" y="0" transform="translate(47,620.3) rotate(-90)" font-family="Liberation Sans, sans-serif" font-weight="bold" stroke="#111" stroke-width="0.3" font-size="12" text-anchor="middle" textLength="199.9" lengthAdjust="spacingAndGlyphs" fill="#111" xml:space="preserve">PVNT50  (Reciprocal dillution factor)</text>
<text x="0" y="0" transform="translate(116.9,727.7) rotate(-45)" font-family="Liberation Sans, sans-serif" font-weight="bold" stroke="#111" stroke-width="0.3" font-size="11.75" text-anchor="end" fill="#111">BA.2</text>
<text x="0" y="0" transform="translate(158.8,727.7) rotate(-45)" font-family="Liberation Sans, sans-serif" font-weight="bold" stroke="#111" stroke-width="0.3" font-size="11.75" text-anchor="end" fill="#111">BA.2.86 K554E</text>
<text x="0" y="0" transform="translate(200.9,727.7) rotate(-45)" font-family="Liberation Sans, sans-serif" font-weight="bold" stroke="#111" stroke-width="0.3" font-size="11.75" text-anchor="end" fill="#111">BA.2.86</text>
<text x="40.7" y="478" font-family="Liberation Sans, sans-serif" font-weight="bold" stroke="#111" stroke-width="0.3" font-size="15.3" fill="#111">D)</text>
<text x="112" y="487.6" font-family="Liberation Sans, sans-serif" font-weight="bold" stroke="#111" stroke-width="0.3" font-size="12.8" textLength="87.4" lengthAdjust="spacingAndGlyphs" fill="#111" xml:space="preserve">BA.2.86 K554E</text>
<g stroke="#242424" stroke-width="1.2" fill="none">
<path d="M113.7,520.1 V509.7 H197.8 V520.1"/>
<path d="M113.7,528.3 V523.8 H154.6 V549.1"/>
<path d="M157.2,549.1 V523.8 H197.8 V551.3"/>
</g>
<text x="155.8" y="510.7" font-family="Liberation Sans, sans-serif" font-weight="bold" stroke="#111" stroke-width="0.3" font-size="10" text-anchor="middle" fill="#111">****</text>
<text x="133.8" y="520.7" font-family="Liberation Sans, sans-serif" font-size="6.6" textLength="5.4" lengthAdjust="spacingAndGlyphs" text-anchor="middle" fill="#1a1a1a" stroke="#1a1a1a" stroke-width="0.12">ns</text>
<text x="177.3" y="525.3" font-family="Liberation Sans, sans-serif" font-weight="bold" stroke="#111" stroke-width="0.3" font-size="10" text-anchor="middle" fill="#111">*</text>
<g fill="#1800d4">
<circle cx="113.6" cy="531.4" r="3.1"/>
<circle cx="113.6" cy="535.9" r="3.1"/>
<circle cx="113.6" cy="557" r="3.1"/>
<circle cx="113.6" cy="564.2" r="3.1"/>
<circle cx="113.6" cy="567.4" r="3.1"/>
<circle cx="113.6" cy="570.6" r="3.1"/>
<circle cx="113.6" cy="573.8" r="3.1"/>
<circle cx="113.6" cy="580.2" r="3.1"/>
<circle cx="113.6" cy="583.4" r="3.1"/>
<circle cx="113.6" cy="586.6" r="3.1"/>
<circle cx="113.6" cy="589.8" r="3.1"/>
<circle cx="113.6" cy="593.8" r="3.1"/>
<circle cx="113.6" cy="599.9" r="3.1"/>
<circle cx="113.6" cy="608.2" r="3.1"/>
<circle cx="113.6" cy="615.6" r="3.1"/>
<circle cx="113.6" cy="640.5" r="3.1"/>
</g>
<g fill="#7f1892">
<circle cx="155.5" cy="553.5" r="3.1"/>
<circle cx="155.5" cy="567.4" r="3.1"/>
<circle cx="155.5" cy="570.6" r="3.1"/>
<circle cx="155.5" cy="577.8" r="3.1"/>
<circle cx="155.5" cy="581" r="3.1"/>
<circle cx="155.5" cy="584.2" r="3.1"/>
<circle cx="155.5" cy="588.2" r="3.1"/>
<circle cx="155.5" cy="591.4" r="3.1"/>
<circle cx="155.5" cy="594.6" r="3.1"/>
<circle cx="155.5" cy="603.4" r="3.1"/>
<circle cx="155.5" cy="607.4" r="3.1"/>
<circle cx="155.5" cy="610.6" r="3.1"/>
<circle cx="155.5" cy="628.7" r="3.1"/>
<circle cx="155.5" cy="631.9" r="3.1"/>
<circle cx="155.5" cy="649" r="3.1"/>
<circle cx="155.5" cy="655.1" r="3.1"/>
</g>
<g fill="#3a8e1f">
<circle cx="197.6" cy="554.8" r="3.1"/>
<circle cx="197.6" cy="574.1" r="3.1"/>
<circle cx="197.6" cy="581" r="3.1"/>
<circle cx="197.6" cy="585" r="3.1"/>
<circle cx="197.6" cy="593.8" r="3.1"/>
<circle cx="197.6" cy="602.1" r="3.1"/>
<circle cx="197.6" cy="608.2" r="3.1"/>
<circle cx="197.6" cy="611.1" r="3.1"/>
<circle cx="197.6" cy="617.8" r="3.1"/>
<circle cx="197.6" cy="623.4" r="3.1"/>
<circle cx="197.6" cy="635.4" r="3.1"/>
<circle cx="197.6" cy="644.2" r="3.1"/>
<circle cx="197.6" cy="680.2" r="3.1"/>
</g>
<g stroke="#d4d4d4" stroke-width="0.5" fill="none">
<polyline points="346.8,536 387.4,572.5 428.6,559.1"/>
<polyline points="346.8,536 387.4,572.5 428.6,559.1"/>
<polyline points="346.8,540.7 387.4,553.6 428.6,559.1"/>
<polyline points="346.8,540.7 387.4,591.1 428.6,584.3"/>
<polyline points="346.8,561.2 387.4,567 428.6,577.5"/>
<polyline points="346.8,568.2 387.4,553.6 428.6,587.5"/>
<polyline points="346.8,568.2 387.4,596.9 428.6,577.5"/>
<polyline points="346.8,571.4 387.4,596.9 428.6,596.9"/>
<polyline points="346.8,571.4 387.4,600 428.6,611.9"/>
<polyline points="346.8,574.5 387.4,567 428.6,611.9"/>
<polyline points="346.8,577.7 387.4,591.1 428.6,584.3"/>
<polyline points="346.8,577.7 387.4,574.9 428.6,605.2"/>
<polyline points="346.8,584.3 387.4,606.3 428.6,587.5"/>
<polyline points="346.8,587.5 387.4,609.5 428.6,614.2"/>
<polyline points="346.8,587.5 387.4,603.2 428.6,596.9"/>
<polyline points="346.8,590.6 387.4,606.3 428.6,626"/>
<polyline points="346.8,590.6 387.4,600 428.6,605.2"/>
<polyline points="346.8,593.7 387.4,615.8 428.6,626"/>
<polyline points="346.8,598 387.4,612.6 428.6,620.5"/>
<polyline points="346.8,598 387.4,612.6 428.6,620.5"/>
<polyline points="346.8,618.1 387.4,609.5 428.6,614.2"/>
<polyline points="346.8,642.5 387.4,622.1 428.6,637.5"/>
<polyline points="346.8,603.2 387.4,625.2 428.6,681.6"/>
<polyline points="346.8,611.1 387.4,630.7 428.6,646"/>
</g>
<line x1="319.6" y1="657.7" x2="455.4" y2="657.7" stroke="#9c9c9c" stroke-width="1.2" stroke-dasharray="3.6,0.8"/>
<g stroke="#242424" stroke-width="1.15" fill="none">
<path d="M319.6,510.9 V715.2 H455.4"/>
<path d="M316,715.2 H319.6"/>
<path d="M316,681.2 H319.6"/>
<path d="M316,647.1 H319.6"/>
<path d="M316,613 H319.6"/>
<path d="M316,579 H319.6"/>
<path d="M316,545 H319.6"/>
<path d="M316,510.9 H319.6"/>
<path d="M346.8,715.2 V719.2"/>
<path d="M387.4,715.2 V719.2"/>
<path d="M428.6,715.2 V719.2"/>
</g>
<text x="310.7" y="720.8" font-family="Liberation Sans, sans-serif" font-weight="bold" stroke="#111" stroke-width="0.3" font-size="12.4" text-anchor="end" fill="#111">10</text>
<text x="310.5" y="716.8" font-family="Liberation Sans, sans-serif" font-weight="bold" stroke="#111" stroke-width="0.3" font-size="9.4" fill="#111">0</text>
<text x="310.7" y="686.8" font-family="Liberation Sans, sans-serif" font-weight="bold" stroke="#111" stroke-width="0.3" font-size="12.4" text-anchor="end" fill="#111">10</text>
<text x="310.5" y="682.8" font-family="Liberation Sans, sans-serif" font-weight="bold" stroke="#111" stroke-width="0.3" font-size="9.4" fill="#111">1</text>
<text x="310.7" y="652.7" font-family="Liberation Sans, sans-serif" font-weight="bold" stroke="#111" stroke-width="0.3" font-size="12.4" text-anchor="end" fill="#111">10</text>
<text x="310.5" y="648.7" font-family="Liberation Sans, sans-serif" font-weight="bold" stroke="#111" stroke-width="0.3" font-size="9.4" fill="#111">2</text>
<text x="310.7" y="618.6" font-family="Liberation Sans, sans-serif" font-weight="bold" stroke="#111" stroke-width="0.3" font-size="12.4" text-anchor="end" fill="#111">10</text>
<text x="310.5" y="614.6" font-family="Liberation Sans, sans-serif" font-weight="bold" stroke="#111" stroke-width="0.3" font-size="9.4" fill="#111">3</text>
<text x="310.7" y="584.6" font-family="Liberation Sans, sans-serif" font-weight="bold" stroke="#111" stroke-width="0.3" font-size="12.4" text-anchor="end" fill="#111">10</text>
<text x="310.5" y="580.6" font-family="Liberation Sans, sans-serif" font-weight="bold" stroke="#111" stroke-width="0.3" font-size="9.4" fill="#111">4</text>
<text x="310.7" y="550.6" font-family="Liberation Sans, sans-serif" font-weight="bold" stroke="#111" stroke-width="0.3" font-size="12.4" text-anchor="end" fill="#111">10</text>
<text x="310.5" y="546.6" font-family="Liberation Sans, sans-serif" font-weight="bold" stroke="#111" stroke-width="0.3" font-size="9.4" fill="#111">5</text>
<text x="310.7" y="516.5" font-family="Liberation Sans, sans-serif" font-weight="bold" stroke="#111" stroke-width="0.3" font-size="12.4" text-anchor="end" fill="#111">10</text>
<text x="310.5" y="512.5" font-family="Liberation Sans, sans-serif" font-weight="bold" stroke="#111" stroke-width="0.3" font-size="9.4" fill="#111">6</text>
<text x="0" y="0" transform="translate(284,624.5) rotate(-90)" font-family="Liberation Sans, sans-serif" font-weight="bold" stroke="#111" stroke-width="0.3" font-size="12" text-anchor="middle" textLength="193.4" lengthAdjust="spacingAndGlyphs" fill="#111" xml:space="preserve">PVNT50  (Reciprocal dillution factor)</text>
<text x="0" y="0" transform="translate(350.1,727.7) rotate(-45)" font-family="Liberation Sans, sans-serif" font-weight="bold" stroke="#111" stroke-width="0.3" font-size="11.6" text-anchor="end" fill="#111">BA.2</text>
<text x="0" y="0" transform="translate(390.7,727.7) rotate(-45)" font-family="Liberation Sans, sans-serif" font-weight="bold" stroke="#111" stroke-width="0.3" font-size="11.6" text-anchor="end" fill="#111">BA.2.86 S621P</text>
<text x="0" y="0" transform="translate(431.9,727.7) rotate(-45)" font-family="Liberation Sans, sans-serif" font-weight="bold" stroke="#111" stroke-width="0.3" font-size="11.6" text-anchor="end" fill="#111">BA.2.86</text>
<text x="275.3" y="478.6" font-family="Liberation Sans, sans-serif" font-weight="bold" stroke="#111" stroke-width="0.3" font-size="15.3" fill="#111">E)</text>
<text x="345.6" y="493.5" font-family="Liberation Sans, sans-serif" font-weight="bold" stroke="#111" stroke-width="0.3" font-size="12.6" textLength="84.4" lengthAdjust="spacingAndGlyphs" fill="#111" xml:space="preserve">BA.2.86 S621P</text>
<g stroke="#242424" stroke-width="1.2" fill="none">
<path d="M346.4,525.1 V515.1 H428.6 V525.1"/>
<path d="M346.4,533.3 V528.8 H386.4 V549.6"/>
<path d="M388.8,549.6 V528.8 H428.6 V555.6"/>
</g>
<text x="387.6" y="516.2" font-family="Liberation Sans, sans-serif" font-weight="bold" stroke="#111" stroke-width="0.3" font-size="10" text-anchor="middle" fill="#111">****</text>
<text x="366.8" y="530.3" font-family="Liberation Sans, sans-serif" font-weight="bold" stroke="#111" stroke-width="0.3" font-size="10" text-anchor="middle" fill="#111">*</text>
<text x="408.5" y="526.1" font-family="Liberation Sans, sans-serif" font-size="6.6" textLength="5.4" lengthAdjust="spacingAndGlyphs" text-anchor="middle" fill="#1a1a1a" stroke="#1a1a1a" stroke-width="0.12">ns</text>
<g fill="#1800d4">
<circle cx="346.8" cy="536" r="3.1"/>
<circle cx="346.8" cy="540.7" r="3.1"/>
<circle cx="346.8" cy="561.2" r="3.1"/>
<circle cx="346.8" cy="568.2" r="3.1"/>
<circle cx="346.8" cy="571.4" r="3.1"/>
<circle cx="346.8" cy="574.5" r="3.1"/>
<circle cx="346.8" cy="577.7" r="3.1"/>
<circle cx="346.8" cy="584.3" r="3.1"/>
<circle cx="346.8" cy="587.5" r="3.1"/>
<circle cx="346.8" cy="590.6" r="3.1"/>
<circle cx="346.8" cy="593.7" r="3.1"/>
<circle cx="346.8" cy="598" r="3.1"/>
<circle cx="346.8" cy="603.2" r="3.1"/>
<circle cx="346.8" cy="611.1" r="3.1"/>
<circle cx="346.8" cy="618.1" r="3.1"/>
<circle cx="346.8" cy="642.5" r="3.1"/>
</g>
<g fill="#7f1892">
<circle cx="387.4" cy="553.6" r="3.1"/>
<circle cx="387.4" cy="567" r="3.1"/>
<circle cx="387.4" cy="572.5" r="3.1"/>
<circle cx="387.4" cy="574.9" r="3.1"/>
<circle cx="387.4" cy="591.1" r="3.1"/>
<circle cx="387.4" cy="596.9" r="3.1"/>
<circle cx="387.4" cy="600" r="3.1"/>
<circle cx="387.4" cy="603.2" r="3.1"/>
<circle cx="387.4" cy="606.3" r="3.1"/>
<circle cx="387.4" cy="609.5" r="3.1"/>
<circle cx="387.4" cy="612.6" r="3.1"/>
<circle cx="387.4" cy="615.8" r="3.1"/>
<circle cx="387.4" cy="622.1" r="3.1"/>
<circle cx="387.4" cy="625.2" r="3.1"/>
<circle cx="387.4" cy="630.7" r="3.1"/>
</g>
<g fill="#3a8e1f">
<circle cx="428.6" cy="559.1" r="3.1"/>
<circle cx="428.6" cy="577.5" r="3.1"/>
<circle cx="428.6" cy="584.3" r="3.1"/>
<circle cx="428.6" cy="587.5" r="3.1"/>
<circle cx="428.6" cy="596.9" r="3.1"/>
<circle cx="428.6" cy="605.2" r="3.1"/>
<circle cx="428.6" cy="611.9" r="3.1"/>
<circle cx="428.6" cy="614.2" r="3.1"/>
<circle cx="428.6" cy="620.5" r="3.1"/>
<circle cx="428.6" cy="626" r="3.1"/>
<circle cx="428.6" cy="637.5" r="3.1"/>
<circle cx="428.6" cy="646" r="3.1"/>
<circle cx="428.6" cy="681.6" r="3.1"/>
</g>
<g stroke="#d4d4d4" stroke-width="0.5" fill="none">
<polyline points="569.4,527.8 612,564 655.1,571.3"/>
<polyline points="569.4,527.8 612,560.4 655.1,551.8"/>
<polyline points="569.4,532.3 612,570.5 655.1,575.4"/>
<polyline points="569.4,546.9 612,580.2 655.1,551.8"/>
<polyline points="569.4,546.9 612,523 655.1,575.4"/>
<polyline points="569.4,554.6 612,523 655.1,591.1"/>
<polyline points="569.4,561.6 612,577 655.1,591.1"/>
<polyline points="569.4,564.8 612,567.2 655.1,599.7"/>
<polyline points="569.4,564.8 612,570.5 655.1,571.3"/>
<polyline points="569.4,568.1 612,586.7 655.1,580.2"/>
<polyline points="569.4,571.3 612,564 655.1,615.9"/>
<polyline points="569.4,571.3 612,583.5 655.1,606.8"/>
<polyline points="569.4,574.6 612,600.6 655.1,599.7"/>
<polyline points="569.4,578.6 612,611.4 655.1,606.8"/>
<polyline points="569.4,581.9 612,596.5 655.1,609.1"/>
<polyline points="569.4,581.9 612,580.2 655.1,621.3"/>
<polyline points="569.4,585.1 612,611.4 655.1,623.5"/>
<polyline points="569.4,588.4 612,596.5 655.1,621.3"/>
<polyline points="569.4,588.4 612,618.2 655.1,615.9"/>
<polyline points="569.4,592.4 612,591.6 655.1,632.6"/>
<polyline points="569.4,606.1 612,586.7 655.1,623.5"/>
<polyline points="569.4,639 612,627.3 655.1,642.5"/>
<polyline points="569.4,597.8 612,622 655.1,680"/>
<polyline points="569.4,613.7 612,638 655.1,635.2"/>
</g>
<line x1="541.2" y1="652.4" x2="683" y2="652.4" stroke="#9c9c9c" stroke-width="1.2" stroke-dasharray="3.6,0.8"/>
<g stroke="#242424" stroke-width="1.15" fill="none">
<path d="M541.2,501.6 V715.2 H683"/>
<path d="M537.6,715.2 H541.2"/>
<path d="M537.6,679.6 H541.2"/>
<path d="M537.6,644 H541.2"/>
<path d="M537.6,608.4 H541.2"/>
<path d="M537.6,572.8 H541.2"/>
<path d="M537.6,537.2 H541.2"/>
<path d="M537.6,501.6 H541.2"/>
<path d="M569.4,715.2 V719.2"/>
<path d="M612,715.2 V719.2"/>
<path d="M655.1,715.2 V719.2"/>
</g>
<text x="532.3" y="720.8" font-family="Liberation Sans, sans-serif" font-weight="bold" stroke="#111" stroke-width="0.3" font-size="12.4" text-anchor="end" fill="#111">10</text>
<text x="532.1" y="716.8" font-family="Liberation Sans, sans-serif" font-weight="bold" stroke="#111" stroke-width="0.3" font-size="9.4" fill="#111">0</text>
<text x="532.3" y="685.2" font-family="Liberation Sans, sans-serif" font-weight="bold" stroke="#111" stroke-width="0.3" font-size="12.4" text-anchor="end" fill="#111">10</text>
<text x="532.1" y="681.2" font-family="Liberation Sans, sans-serif" font-weight="bold" stroke="#111" stroke-width="0.3" font-size="9.4" fill="#111">1</text>
<text x="532.3" y="649.6" font-family="Liberation Sans, sans-serif" font-weight="bold" stroke="#111" stroke-width="0.3" font-size="12.4" text-anchor="end" fill="#111">10</text>
<text x="532.1" y="645.6" font-family="Liberation Sans, sans-serif" font-weight="bold" stroke="#111" stroke-width="0.3" font-size="9.4" fill="#111">2</text>
<text x="532.3" y="614" font-family="Liberation Sans, sans-serif" font-weight="bold" stroke="#111" stroke-width="0.3" font-size="12.4" text-anchor="end" fill="#111">10</text>
<text x="532.1" y="610" font-family="Liberation Sans, sans-serif" font-weight="bold" stroke="#111" stroke-width="0.3" font-size="9.4" fill="#111">3</text>
<text x="532.3" y="578.4" font-family="Liberation Sans, sans-serif" font-weight="bold" stroke="#111" stroke-width="0.3" font-size="12.4" text-anchor="end" fill="#111">10</text>
<text x="532.1" y="574.4" font-family="Liberation Sans, sans-serif" font-weight="bold" stroke="#111" stroke-width="0.3" font-size="9.4" fill="#111">4</text>
<text x="532.3" y="542.8" font-family="Liberation Sans, sans-serif" font-weight="bold" stroke="#111" stroke-width="0.3" font-size="12.4" text-anchor="end" fill="#111">10</text>
<text x="532.1" y="538.8" font-family="Liberation Sans, sans-serif" font-weight="bold" stroke="#111" stroke-width="0.3" font-size="9.4" fill="#111">5</text>
<text x="532.3" y="507.2" font-family="Liberation Sans, sans-serif" font-weight="bold" stroke="#111" stroke-width="0.3" font-size="12.4" text-anchor="end" fill="#111">10</text>
<text x="532.1" y="503.2" font-family="Liberation Sans, sans-serif" font-weight="bold" stroke="#111" stroke-width="0.3" font-size="9.4" fill="#111">6</text>
<text x="0" y="0" transform="translate(505,614.3) rotate(-90)" font-family="Liberation Sans, sans-serif" font-weight="bold" stroke="#111" stroke-width="0.3" font-size="12" text-anchor="middle" textLength="197.8" lengthAdjust="spacingAndGlyphs" fill="#111" xml:space="preserve">PVNT50  (Reciprocal dillution factor)</text>
<text x="0" y="0" transform="translate(572.7,727.7) rotate(-45)" font-family="Liberation Sans, sans-serif" font-weight="bold" stroke="#111" stroke-width="0.3" font-size="12.0" text-anchor="end" fill="#111">BA.2</text>
<text x="0" y="0" transform="translate(615.3,727.7) rotate(-45)" font-family="Liberation Sans, sans-serif" font-weight="bold" stroke="#111" stroke-width="0.3" font-size="12.0" text-anchor="end" fill="#111">BA.2.86 K460N</text>
<text x="0" y="0" transform="translate(658.4,727.7) rotate(-45)" font-family="Liberation Sans, sans-serif" font-weight="bold" stroke="#111" stroke-width="0.3" font-size="12.0" text-anchor="end" fill="#111">BA.2.86</text>
<text x="488.2" y="477.6" font-family="Liberation Sans, sans-serif" font-weight="bold" stroke="#111" stroke-width="0.3" font-size="15.3" fill="#111">F)</text>
<text x="566" y="482.9" font-family="Liberation Sans, sans-serif" font-weight="bold" stroke="#111" stroke-width="0.3" font-size="12.2" textLength="92" lengthAdjust="spacingAndGlyphs" fill="#111" xml:space="preserve">BA.2.86  K460N</text>
<g stroke="#242424" stroke-width="1.2" fill="none">
<path d="M569.4,511.5 V500.3 H655 V511.5"/>
<path d="M569.4,523.7 V515.5 H611.1 V519.5"/>
<path d="M613.2,519.5 V515.5 H655 V548"/>
</g>
<text x="612.4" y="502.2" font-family="Liberation Sans, sans-serif" font-weight="bold" stroke="#111" stroke-width="0.3" font-size="10" text-anchor="middle" fill="#111">****</text>
<text x="590.2" y="512.4" font-family="Liberation Sans, sans-serif" font-size="6.6" textLength="5.4" lengthAdjust="spacingAndGlyphs" text-anchor="middle" fill="#1a1a1a" stroke="#1a1a1a" stroke-width="0.12">ns</text>
<text x="634.4" y="517" font-family="Liberation Sans, sans-serif" font-weight="bold" stroke="#111" stroke-width="0.3" font-size="10" text-anchor="middle" fill="#111">**</text>
<g fill="#1800d4">
<circle cx="569.4" cy="527.8" r="3.1"/>
<circle cx="569.4" cy="532.3" r="3.1"/>
<circle cx="569.4" cy="546.9" r="3.1"/>
<circle cx="569.4" cy="554.6" r="3.1"/>
<circle cx="569.4" cy="561.6" r="3.1"/>
<circle cx="569.4" cy="564.8" r="3.1"/>
<circle cx="569.4" cy="568.1" r="3.1"/>
<circle cx="569.4" cy="571.3" r="3.1"/>
<circle cx="569.4" cy="574.6" r="3.1"/>
<circle cx="569.4" cy="578.6" r="3.1"/>
<circle cx="569.4" cy="581.9" r="3.1"/>
<circle cx="569.4" cy="585.1" r="3.1"/>
<circle cx="569.4" cy="588.4" r="3.1"/>
<circle cx="569.4" cy="592.4" r="3.1"/>
<circle cx="569.4" cy="597.8" r="3.1"/>
<circle cx="569.4" cy="606.1" r="3.1"/>
<circle cx="569.4" cy="613.7" r="3.1"/>
<circle cx="569.4" cy="639" r="3.1"/>
</g>
<g fill="#7f1892">
<circle cx="612" cy="523" r="3.1"/>
<circle cx="612" cy="560.4" r="3.1"/>
<circle cx="612" cy="564" r="3.1"/>
<circle cx="612" cy="567.2" r="3.1"/>
<circle cx="612" cy="570.5" r="3.1"/>
<circle cx="612" cy="577" r="3.1"/>
<circle cx="612" cy="580.2" r="3.1"/>
<circle cx="612" cy="583.5" r="3.1"/>
<circle cx="612" cy="586.7" r="3.1"/>
<circle cx="612" cy="591.6" r="3.1"/>
<circle cx="612" cy="596.5" r="3.1"/>
<circle cx="612" cy="600.6" r="3.1"/>
<circle cx="612" cy="611.4" r="3.1"/>
<circle cx="612" cy="618.2" r="3.1"/>
<circle cx="612" cy="622" r="3.1"/>
<circle cx="612" cy="627.3" r="3.1"/>
<circle cx="612" cy="638" r="3.1"/>
</g>
<g fill="#3a8e1f">
<circle cx="655.1" cy="551.8" r="3.1"/>
<circle cx="655.1" cy="571.3" r="3.1"/>
<circle cx="655.1" cy="575.4" r="3.1"/>
<circle cx="655.1" cy="580.2" r="3.1"/>
<circle cx="655.1" cy="591.1" r="3.1"/>
<circle cx="655.1" cy="599.7" r="3.1"/>
<circle cx="655.1" cy="606.8" r="3.1"/>
<circle cx="655.1" cy="609.1" r="3.1"/>
<circle cx="655.1" cy="615.9" r="3.1"/>
<circle cx="655.1" cy="621.3" r="3.1"/>
<circle cx="655.1" cy="623.5" r="3.1"/>
<circle cx="655.1" cy="632.6" r="3.1"/>
<circle cx="655.1" cy="635.2" r="3.1"/>
<circle cx="655.1" cy="642.5" r="3.1"/>
<circle cx="655.1" cy="680" r="3.1"/>
</g>
</svg></body></html>
